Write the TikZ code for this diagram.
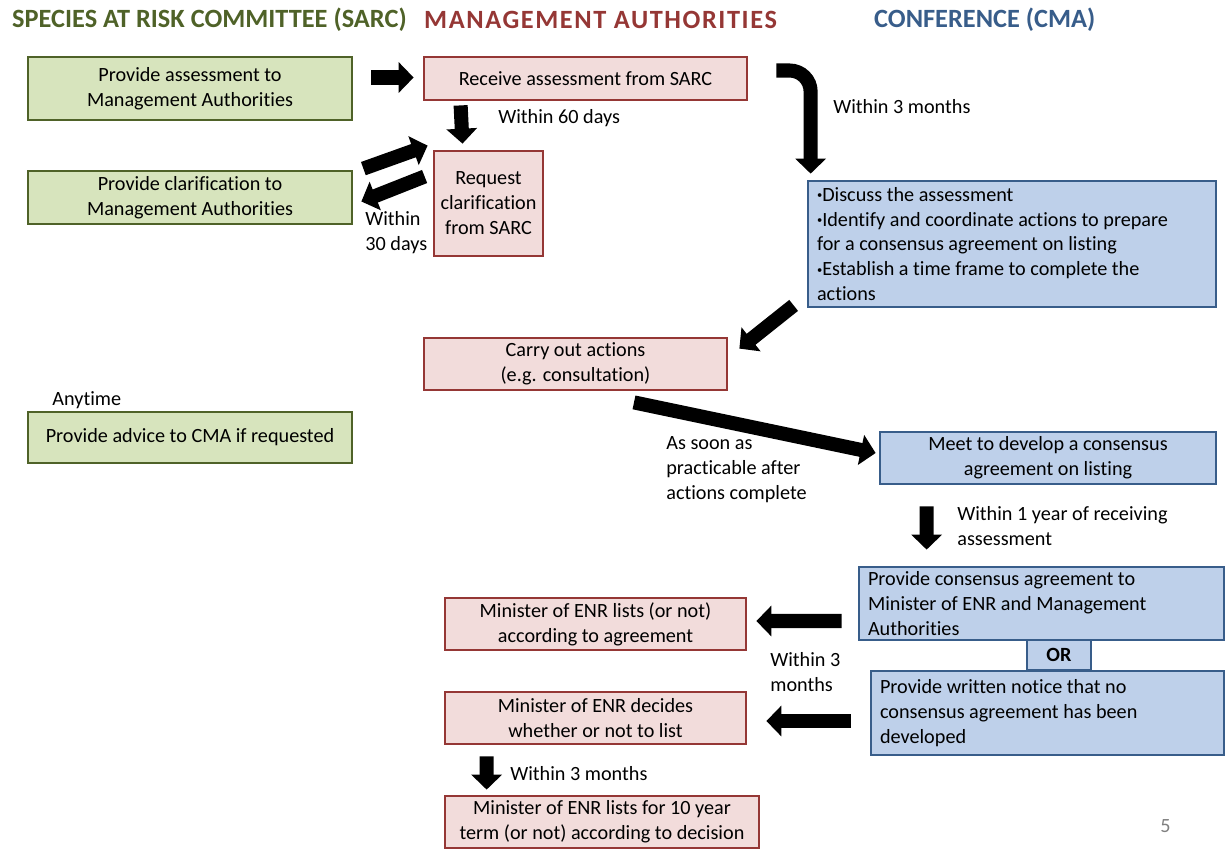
\documentclass[tikz,border=0pt]{standalone}
\usepackage{fontspec}
\setmainfont{Carlito}[Ligatures=NoCommon]
\usepackage{tikz}
\usetikzlibrary{arrows.meta,positioning,calc}
\definecolor{sarcgreen}{RGB}{79,98,40}
\definecolor{sarcfill}{RGB}{215,228,189}
\definecolor{mared}{RGB}{149,55,53}
\definecolor{mafill}{RGB}{242,220,219}
\definecolor{cmablue}{RGB}{56,93,138}
\definecolor{cmafill}{RGB}{190,208,234}
\newcommand{\bul}{\raisebox{0.25ex}{\fontsize{6}{6}\selectfont•}}

\begin{document}
\begin{tikzpicture}[x=0.02cm, y=-0.02cm,
          every node/.style={font=\fontsize{11.5}{14.2}\selectfont},
          sarc/.style={draw=sarcgreen, line width=1.6pt, fill=sarcfill,
                       align=center, inner sep=2pt},
          ma/.style={draw=mared, line width=1.6pt, fill=mafill,
                     align=center, inner sep=2pt},
          cma/.style={draw=cmablue, line width=1.6pt, fill=cmafill,
                      align=center, inner sep=2pt},
          cmal/.style={cma, align=flush left, inner xsep=0.18cm},
          head/.style={anchor=west, font=\fontsize{15}{18}\selectfont\bfseries},
          lbl/.style={anchor=west, align=flush left, inner sep=0pt},
          blk/.style={line width=8pt, -{Triangle[length=8.5pt,width=17pt]}}
        ]
          \useasboundingbox (0,0) rectangle (1225,850);
          % column titles
          \node[head, text=sarcgreen] (t1) at (6,20) {SPECIES AT RISK COMMITTEE (SARC)};
          \node[head, text=mared] (t2) at (418,20) {\addfontfeature{LetterSpace=6}MANAGEMENT AUTHORITIES};
          \node[head, text=cmablue] (t3) at (868,20) {CONFERENCE (CMA)};
          % SARC
          \node[sarc, minimum width=6.48cm, minimum height=1.26cm] (g1) at (190,88.5)
            {Provide assessment to\\Management Authorities};
          \node[sarc, minimum width=6.48cm, minimum height=1.06cm] (g2) at (190,197.5)
            {Provide clarification to\\Management Authorities};
          \node[sarc, minimum width=6.48cm, minimum height=1.02cm] (g3) at (190,437.5)
            {Provide advice to CMA if requested};
          % management authorities
          \node[ma, minimum width=6.46cm, minimum height=0.86cm] (r1) at (585.5,78.5)
            {Receive assessment from SARC};
          \node[ma, minimum width=2.18cm, minimum height=2.10cm] (r2) at (488.5,203.5)
            {Request\\clarification\\from SARC};
          \node[ma, minimum width=6.06cm, minimum height=1.04cm] (r3) at (575.5,364)
            {Carry out actions\\(e.g. consultation)};
          \node[ma, minimum width=6.02cm, minimum height=1.04cm] (r4) at (595.5,624)
            {Minister of ENR lists (or not)\\according to agreement};
          \node[ma, minimum width=6.02cm, minimum height=1.04cm] (r5) at (595.5,718)
            {Minister of ENR decides\\whether or not to list};
          \node[ma, minimum width=6.28cm, minimum height=1.04cm] (r6) at (602,822)
            {Minister of ENR lists for 10 year\\term (or not) according to decision};
          % conference
          \node[cmal, text width=7.80cm, minimum height=2.52cm] (b1) at (1012,244)
            {\bul Discuss the assessment\\\bul Identify and coordinate actions to prepare\\for a consensus agreement on listing\\\bul Establish a time frame to complete the\\actions};
          \node[cma, minimum width=6.72cm, minimum height=1.04cm] (b2) at (1048,458)
            {Meet to develop a consensus\\agreement on listing};
          \node[cmal, text width=6.94cm, minimum height=1.46cm] (b3) at (1041.5,603.5)
            {Provide consensus agreement to\\Minister of ENR and Management\\Authorities};
          \node[cma, minimum width=1.28cm, minimum height=0.60cm,
                font=\fontsize{11.5}{14.2}\selectfont\bfseries] (or) at (1059,655) {OR};
          \node[cmal, text width=6.70cm, minimum height=1.68cm] (b4) at (1047.5,713)
            {Provide written notice that no\\consensus agreement has been\\developed};
          % time labels
          \node[lbl] (l60) at (498,118) {Within 60 days};
          \node[lbl] (l3m) at (833,107) {Within 3 months};
          \node[lbl] (l30) at (365,233) {Within\\30 days};
          \node[lbl] (lsoon) at (666,470) {As soon as\\practicable after\\actions complete};
          \node[lbl] (l1y) at (957,526) {Within 1 year of receiving\\assessment};
          \node[lbl] (l3b) at (770,672) {Within 3\\months};
          \node[lbl] (l3c) at (510,774) {Within 3 months};
          \node[lbl] (lany) at (52,400) {Anytime};
          \node[lbl, text=gray] (pg) at (1160,826) {5};
          % arrows
          \draw[blk] ($(g1.east)+(18,-11)$) -- ($(r1.west)+(-9,-1)$);
          \draw[blk] ($(r1.south west)+(38,4)$) -- ($(r2.north)+(-26,-6)$);
          \draw[blk] ($(g2.north east)+(10,-1)$) -- ($(r2.north west)+(-5,-4)$);
          \draw[blk] ($(r2.west)+(-8,-27)$) -- ($(g2.east)+(8,4)$);
          \draw[blk, rounded corners=12pt] ($(r1.east)+(28,-8)$) -| ($(b1.north west)+(4,-6)$);
          \draw[blk] ($(b1.south west)+(-13,-3)$) -- ($(r3.north east)+(11,12)$);
          \draw[blk] ($(r3.south)+(58.5,11)$) -- ($(b2.west)+(-3,-5)$);
          \draw[blk] ($(b2.south west)+(48,21)$) -- ($(b3.north west)+(69,-16)$);
          \draw[blk] ($(b3.west)+(-16,17.5)$) -- ($(r4.east)+(9,-3)$);
          \draw[blk] ($(b4.west)+(-19,8)$) -- ($(r5.east)+(19,3)$);
          \draw[blk] ($(r5.south west)+(43,11)$) -- ($(r6.north west)+(43,-5)$);
        \end{tikzpicture}
\end{document}
